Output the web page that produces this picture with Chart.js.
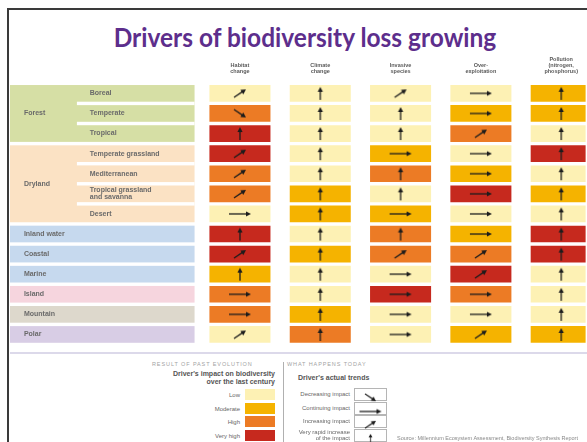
<!DOCTYPE html>
<html>
<head>
<meta charset="utf-8">
<script src="https://cdn.jsdelivr.net/npm/chart.js@4.4.0/dist/chart.umd.min.js"></script>
<style>
  html, body { margin: 0; padding: 0; background: #fff; }
  #page { position: relative; width: 587px; height: 442px; overflow: hidden; font-family: "Liberation Sans", Arial, sans-serif; }
  #frame { position: absolute; left: 7px; top: 8px; width: 620px; height: 480px; border-left: 2px solid #3a3a3a; border-top: 2px solid #3a3a3a; }
  #title { position: absolute; left: 0; width: 610px; top: 24px; text-align: center; font-family: Lato, sans-serif; font-weight: bold; font-size: 24.5px; line-height: 28px; color: #5d2e8c; transform: scaleY(1.08); transform-origin: 50% 85%; }
  #chart { position: absolute; left: 0; top: 41px; }
  #rule { position: absolute; left: 10px; top: 352px; width: 580px; height: 2px; background: #dcd9ea; }
  .cap { position: absolute; font-size: 5.5px; letter-spacing: 0.9px; color: #a3a3a3; white-space: nowrap; }
  .head { position: absolute; font-size: 7px; font-weight: bold; color: #555; line-height: 8px; white-space: nowrap; }
  .lab { position: absolute; font-size: 6px; color: #666; text-align: right; white-space: nowrap; line-height: 6px; }
  .sw { position: absolute; width: 30px; height: 11px; }
  .ibox { position: absolute; width: 31px; height: 11px; border: 1px solid #b5b5b5; background: #fff; }
  #divider { position: absolute; left: 283px; top: 362px; width: 1px; height: 80px; background: #b0b0b0; }
  #source { position: absolute; left: 397px; top: 435px; font-size: 5.5px; color: #888; white-space: nowrap; }
</style>
</head>
<body>
<div id="page">
  <div id="frame"></div>
  <div id="title">Drivers of biodiversity loss growing</div>
  <canvas id="chart" width="587" height="309"></canvas>
  <div id="rule"></div>
  <div class="cap" style="left:152px; top:361px;">RESULT OF PAST EVOLUTION</div>
  <div class="head" style="left:140px; width:135px; top:370px; text-align:right;">Driver's impact on biodiversity<br>over the last century</div>
  <div id="divider"></div>
  <div class="cap" style="left:287px; top:361px;">WHAT HAPPENS TODAY</div>
  <div class="head" style="left:298px; top:374px;">Driver's actual trends</div>
  <div id="legend"></div>
  <div id="source">Source: Millennium Ecosystem Assessment, Biodiversity Synthesis Report</div>
</div>
<script>
// rows, grouped by biome
const groups = ['Forest', 'Dryland', 'Inland water', 'Coastal', 'Marine', 'Island', 'Mountain', 'Polar'];
const groupSize = [3, 4, 1, 1, 1, 1, 1, 1];
const rows = ['Boreal', 'Temperate', 'Tropical', 'Temperate grassland', 'Mediterranean',
  'Tropical grassland and savanna', 'Desert', 'Inland water', 'Coastal', 'Marine', 'Island', 'Mountain', 'Polar'];

// drivers (columns)
const drivers = ['Habitat change', 'Climate change', 'Invasive species', 'Over-exploitation', 'Pollution (nitrogen, phosphorus)'];
const driverHeads = [['Habitat', 'change'], ['Climate', 'change'], ['Invasive', 'species'], ['Over-', 'exploitation'], ['Pollution', '(nitrogen,', 'phosphorus)']];

// impact over the last century: 0 low, 1 moderate, 2 high, 3 very high
const levels = ['Low', 'Moderate', 'High', 'Very high'];
const habitatImpact   = [0, 2, 3, 3, 2, 2, 0, 3, 3, 1, 2, 2, 0];
const climateImpact   = [0, 0, 0, 0, 0, 1, 1, 0, 1, 0, 0, 1, 2];
const invasiveImpact  = [0, 0, 0, 1, 2, 0, 1, 2, 2, 0, 3, 0, 0];
const overexplImpact  = [0, 1, 2, 0, 1, 3, 0, 1, 2, 3, 2, 0, 1];
const pollutionImpact = [1, 1, 0, 3, 0, 1, 0, 3, 3, 0, 0, 0, 1];

// current trend: D decreasing, C continuing, I increasing, R very rapid increase
const trendNames = ['Decreasing impact', 'Continuing impact', 'Increasing impact', 'Very rapid increase\nof the impact'];
const habitatTrend   = ['I', 'D', 'R', 'I', 'I', 'I', 'C', 'R', 'I', 'R', 'C', 'C', 'I'];
const climateTrend   = ['R', 'R', 'R', 'R', 'R', 'R', 'R', 'R', 'R', 'R', 'R', 'R', 'R'];
const invasiveTrend  = ['I', 'R', 'R', 'C', 'R', 'R', 'C', 'R', 'I', 'C', 'C', 'C', 'C'];
const overexplTrend  = ['C', 'C', 'I', 'C', 'C', 'C', 'C', 'C', 'I', 'I', 'C', 'C', 'I'];
const pollutionTrend = ['R', 'R', 'R', 'R', 'R', 'R', 'R', 'R', 'R', 'R', 'R', 'R', 'R'];

const impact = [habitatImpact, climateImpact, invasiveImpact, overexplImpact, pollutionImpact];
const trend = [habitatTrend, climateTrend, invasiveTrend, overexplTrend, pollutionTrend];

// styles
const levelColors = ['#fdf1b4', '#f5b300', '#ec7b25', '#c6291e'];
const groupColors = ['#d6dfa5', '#fbe2c4', '#c6d9ee', '#c6d9ee', '#c6d9ee', '#f6d5de', '#ddd8cc', '#d8cde5'];
const labelColor = '#6a6a6a';

// arrow icons as small canvases, used as point styles
function makeArrow(w, h, x0, y0, x1, y1) {
    const cv = document.createElement('canvas');
    cv.width = w; cv.height = h;
    const g = cv.getContext('2d');
    const a = Math.atan2(y1 - y0, x1 - x0);
    g.strokeStyle = '#1c1c1c';
    g.fillStyle = '#1c1c1c';
    g.lineWidth = 1.3;
    g.beginPath();
    g.moveTo(x0, y0);
    g.lineTo(x1 - 3 * Math.cos(a), y1 - 3 * Math.sin(a));
    g.stroke();
    g.beginPath();
    g.moveTo(x1, y1);
    g.lineTo(x1 - 5 * Math.cos(a) + 2.6 * Math.sin(a), y1 - 5 * Math.sin(a) - 2.6 * Math.cos(a));
    g.lineTo(x1 - 5 * Math.cos(a) - 2.6 * Math.sin(a), y1 - 5 * Math.sin(a) + 2.6 * Math.cos(a));
    g.closePath();
    g.fill();
    return cv;
}
const arrowImg = {
    D: makeArrow(16, 12, 2, 2, 14, 10),
    C: makeArrow(24, 8, 1, 4, 23, 4),
    I: makeArrow(16, 12, 2, 10, 14, 2),
    R: makeArrow(8, 15, 4, 14, 4, 1)
};

// left side: biome labels with coloured bands
const rowLabels = {
    id: 'rowLabels',
    beforeDatasetsDraw(chart) {
        const {ctx, scales: {x, y}} = chart;
        const pitch = y.getPixelForValue(1) - y.getPixelForValue(0);
        const half = pitch * 0.83 / 2;
        const xl = x.getPixelForValue(-2.863), xs = x.getPixelForValue(-2.03), xr = x.getPixelForValue(-0.565);
        ctx.save();
        ctx.textBaseline = 'middle';
        ctx.font = 'bold 7px "Liberation Sans", Arial, sans-serif';
        let r = 0;
        groups.forEach((g, gi) => {
            const n = groupSize[gi];
            const top = y.getPixelForValue(r) - half;
            const bot = y.getPixelForValue(r + n - 1) + half;
            ctx.fillStyle = groupColors[gi];
            ctx.fillRect(xl, top, xr - xl, bot - top);
            ctx.fillStyle = labelColor;
            ctx.fillText(g, x.getPixelForValue(-2.69), (top + bot) / 2);
            if (n > 1) {
                for (let k = 0; k < n; k++) {
                    const yc = y.getPixelForValue(r + k);
                    if (k > 0) {
                        ctx.fillStyle = '#fff';
                        ctx.fillRect(xs, yc - pitch + half, xr - xs, pitch - 2 * half);
                    }
                    ctx.fillStyle = labelColor;
                    const lines = rows[r + k].replace(' and ', '\nand ').split('\n');
                    lines.forEach((t, li) => {
                        ctx.fillText(t, x.getPixelForValue(-1.87), yc + (li - (lines.length - 1) / 2) * 7);
                    });
                }
            }
            r += n;
        });
        ctx.restore();
    }
};

const halfW = 0.38;
const cellSets = drivers.map((d, c) => ({
    type: 'bar',
    label: d,
    indexAxis: 'y',
    grouped: false,
    data: impact[c].map(() => [c - halfW, c + halfW]),
    backgroundColor: impact[c].map(v => levelColors[v]),
    barPercentage: 0.83,
    categoryPercentage: 1,
    order: 2
}));
const arrowSets = drivers.map((d, c) => ({
    type: 'scatter',
    label: d + ' trend',
    data: rows.map(r => ({x: c, y: r})),
    pointStyle: trend[c].map(t => arrowImg[t]),
    pointRadius: 6,
    order: 1
}));

new Chart(document.getElementById('chart'), {
    type: 'bar',
    data: {labels: rows, datasets: [...cellSets, ...arrowSets]},
    options: {
        responsive: false,
        animation: false,
        events: [],
        layout: {autoPadding: false, padding: {top: 7, bottom: 5.5, left: 10, right: 0}},
        plugins: {legend: {display: false}, tooltip: {enabled: false}},
        scales: {
            x: {
                type: 'linear',
                position: 'top',
                offset: false,
                min: -2.863,
                max: 4.304,
                afterBuildTicks: axis => { axis.ticks = drivers.map((d, i) => ({value: i})); },
                ticks: {
                    autoSkip: false,
                    maxRotation: 0,
                    minRotation: 0,
                    padding: 9,
                    color: '#5a5a5a',
                    font: {size: 5.5, weight: 'bold', family: '"Liberation Sans", Arial, sans-serif', lineHeight: 1.05},
                    callback: v => driverHeads[v]
                },
                grid: {display: false, drawTicks: false},
                border: {display: false}
            },
            y: {
                type: 'category',
                labels: rows,
                offset: true,
                display: false
            }
        }
    },
    plugins: [rowLabels]
});

// legend, built from the same levels and trends
const legend = document.getElementById('legend');
levels.forEach((l, i) => {
    const top = 389 + i * 13.5;
    legend.insertAdjacentHTML('beforeend',
        `<div class="lab" style="left:180px; width:60px; top:${top + 3}px;">${l}</div>` +
        `<div class="sw" style="left:245px; top:${top}px; background:${levelColors[i]};"></div>`);
});
['D', 'C', 'I', 'R'].forEach((t, i) => {
    const top = 388 + i * 13.7;
    const lines = trendNames[i].split('\n');
    const ly = lines.length > 1 ? top : top + 3;
    legend.insertAdjacentHTML('beforeend',
        `<div class="lab" style="left:270px; width:80px; top:${ly}px;">${lines.join('<br>')}</div>` +
        `<div class="ibox" style="left:354px; top:${top}px;"><canvas width="31" height="11"></canvas></div>`);
    const cv = legend.lastElementChild.querySelector('canvas');
    const img = arrowImg[t];
    const s = Math.min(1, 11 / img.height);
    cv.getContext('2d').drawImage(img, (31 - img.width * s) / 2, (11 - img.height * s) / 2, img.width * s, img.height * s);
});
</script>
</body>
</html>
